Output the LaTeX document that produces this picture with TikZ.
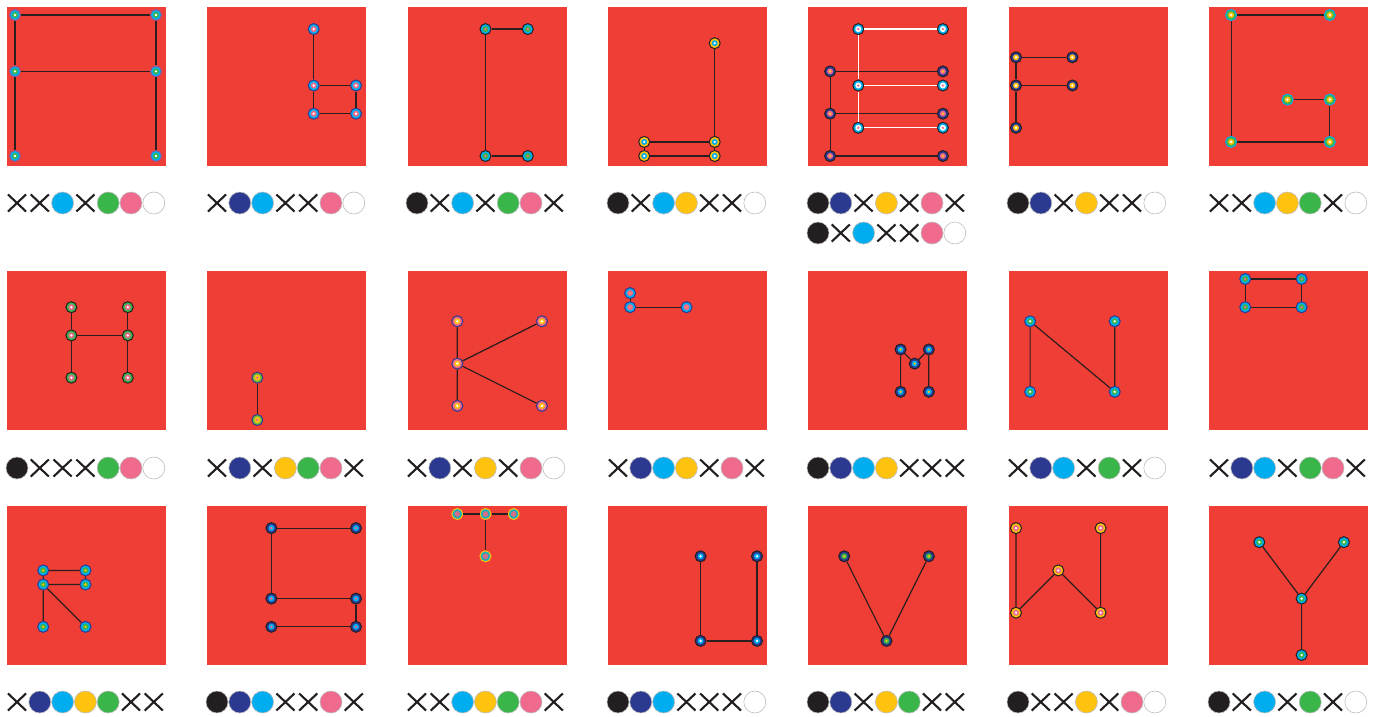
\documentclass[tikz,border=0pt]{standalone}
\usetikzlibrary{shapes.misc}
\definecolor{bgRed}{HTML}{EF3E36}
\definecolor{cblack}{HTML}{231F20}
\definecolor{cnavy}{HTML}{2B3990}
\definecolor{ccyan}{HTML}{00AEEF}
\definecolor{cyellow}{HTML}{FFC20E}
\definecolor{cgreen}{HTML}{39B54A}
\definecolor{cpink}{HTML}{F06A8E}
\definecolor{edgeDark}{HTML}{2A1E1E}
\definecolor{ringGray}{HTML}{BDBDBD}
\tikzset{
  panel/.style={rectangle, fill=bgRed, draw=none, minimum size=159pt, inner sep=0pt},
  vtx/.style n args={4}{circle, inner sep=0pt, minimum size=11pt, line width=1pt,
    draw=#1, fill=#2,
    path picture={\fill[#3] (path picture bounding box.center) circle (3pt);
                  \fill[#4] (path picture bounding box.center) circle (1.3pt);}},
  link/.style={draw=edgeDark, line width=1.2pt},
  linkW/.style={draw=white, line width=1.2pt},
  swatch/.style={circle, inner sep=0pt, minimum size=22pt, draw=ringGray, line width=0.6pt},
  crossmark/.style={cross out, draw=cblack, line width=2.1pt, inner sep=0pt,
    minimum width=16pt, minimum height=15pt},
}
\def\keyX{X}
% one row of seven keys: name, x, y, list
\newcommand{\keyrow}[4]{%
  \foreach \kc [count=\ki from 0] in {#4}{%
    \ifx\kc\keyX
      \node[crossmark] (#1\ki) at ({#2+22.8*\ki},#3) {};
    \else
      \node[swatch, fill=\kc] (#1\ki) at ({#2+22.8*\ki},#3) {};
    \fi}}
\begin{document}
\begin{tikzpicture}[x=1pt, y=-1pt]
  \useasboundingbox (0,0) rectangle (1379,717);

  % panels
  \node[panel] (sqA) at (86.5,86.5) {};
  \node[panel] (sqB) at (286.8,86.5) {};
  \node[panel] (sqC) at (487.1,86.5) {};
  \node[panel] (sqD) at (687.4,86.5) {};
  \node[panel] (sqE) at (887.7,86.5) {};
  \node[panel] (sqF) at (1088,86.5) {};
  \node[panel] (sqG) at (1288.3,86.5) {};
  \node[panel] (sqH) at (86.5,350.5) {};
  \node[panel] (sqI) at (286.8,350.5) {};
  \node[panel] (sqK) at (487.1,350.5) {};
  \node[panel] (sqL) at (687.4,350.5) {};
  \node[panel] (sqM) at (887.7,350.5) {};
  \node[panel] (sqN) at (1088,350.5) {};
  \node[panel] (sqO) at (1288.3,350.5) {};
  \node[panel] (sqR) at (86.5,585.5) {};
  \node[panel] (sqS) at (286.8,585.5) {};
  \node[panel] (sqT) at (487.1,585.5) {};
  \node[panel] (sqU) at (687.4,585.5) {};
  \node[panel] (sqV) at (887.7,585.5) {};
  \node[panel] (sqW) at (1088,585.5) {};
  \node[panel] (sqY) at (1288.3,585.5) {};

  % row 1
  \begin{scope}[shift={(15,15)}, x=14.1pt, y=-14.1pt,
      every node/.style={vtx={cpink!55!cnavy}{ccyan}{cgreen}{white}}]
    \node (a1) at (0,0) {}; \node (a2) at (10,0) {};
    \node (a3) at (0,4) {}; \node (a4) at (10,4) {};
    \node (a5) at (0,10) {}; \node (a6) at (10,10) {};
    \draw[link] (a1)--(a2) (a3)--(a4) (a1)--(a3)--(a5) (a2)--(a4)--(a6);
  \end{scope}
  \begin{scope}[shift={(215,15)}, x=14.1pt, y=-14.1pt,
      every node/.style={vtx={cnavy}{ccyan}{cpink}{white}}]
    \node (b1) at (7,1) {};
    \node (b2) at (7,5) {}; \node (b3) at (10,5) {};
    \node (b4) at (7,7) {}; \node (b5) at (10,7) {};
    \draw[link] (b1)--(b2)--(b4) (b2)--(b3) (b4)--(b5) (b3)--(b5);
  \end{scope}
  \begin{scope}[shift={(415,15)}, x=14.1pt, y=-14.1pt,
      every node/.style={vtx={cblack}{ccyan}{cgreen}{cpink}}]
    \node (c1) at (5,1) {}; \node (c2) at (8,1) {};
    \node (c3) at (5,10) {}; \node (c4) at (8,10) {};
    \draw[link] (c2)--(c1)--(c3)--(c4);
  \end{scope}
  \begin{scope}[shift={(616,15)}, x=14.1pt, y=-14.1pt,
      every node/.style={vtx={cblack}{cyellow}{ccyan}{white}}]
    \node (d1) at (7,2) {};
    \node (d2) at (2,9) {}; \node (d3) at (7,9) {};
    \node (d4) at (2,10) {}; \node (d5) at (7,10) {};
    \draw[link] (d1)--(d3)--(d5) (d2)--(d3) (d4)--(d5) (d2)--(d4);
  \end{scope}
  \begin{scope}[shift={(816,15)}, x=14.1pt, y=-14.1pt,
      every node/.style={vtx={cblack}{cnavy}{cpink}{cyellow}}]
    \node (e1) at (1,4) {}; \node (e2) at (9,4) {};
    \node (e3) at (1,7) {}; \node (e4) at (9,7) {};
    \node (e5) at (1,10) {}; \node (e6) at (9,10) {};
    \draw[link] (e1)--(e2) (e3)--(e4) (e5)--(e6) (e1)--(e3)--(e5);
    \begin{scope}[every node/.style={vtx={cblack}{ccyan}{white}{cpink}}]
      \node (e7) at (3,1) {}; \node (e8) at (9,1) {};
      \node (e9) at (3,5) {}; \node (e10) at (9,5) {};
      \node (e11) at (3,8) {}; \node (e12) at (9,8) {};
      \draw[linkW] (e7)--(e8) (e9)--(e10) (e11)--(e12) (e7)--(e9)--(e11);
    \end{scope}
  \end{scope}
  \begin{scope}[shift={(1016,15)}, x=14.1pt, y=-14.1pt,
      every node/.style={vtx={cblack}{cnavy}{cyellow}{white}}]
    \node (f1) at (0,3) {}; \node (f2) at (4,3) {};
    \node (f3) at (0,5) {}; \node (f4) at (4,5) {};
    \node (f5) at (0,8) {};
    \draw[link] (f1)--(f2) (f3)--(f4) (f1)--(f3)--(f5);
  \end{scope}
  \begin{scope}[shift={(1217,15)}, x=14.1pt, y=-14.1pt,
      every node/.style={vtx={ccyan}{cgreen}{cyellow}{white}}]
    \node (g1) at (1,0) {}; \node (g2) at (8,0) {};
    \node (g3) at (5,6) {}; \node (g4) at (8,6) {};
    \node (g5) at (1,9) {}; \node (g6) at (8,9) {};
    \draw[link] (g2)--(g1)--(g5)--(g6)--(g4)--(g3);
  \end{scope}

  % row 2
  \begin{scope}[shift={(15,279)}, x=14.1pt, y=-14.1pt,
      every node/.style={vtx={cblack}{cgreen}{cpink}{white}}]
    \node (h1) at (4,2) {}; \node (h2) at (8,2) {};
    \node (h3) at (4,4) {}; \node (h4) at (8,4) {};
    \node (h5) at (4,7) {}; \node (h6) at (8,7) {};
    \draw[link] (h1)--(h3)--(h5) (h2)--(h4)--(h6) (h3)--(h4);
  \end{scope}
  \begin{scope}[shift={(215,279)}, x=14.1pt, y=-14.1pt,
      every node/.style={vtx={cnavy}{cgreen!70!cyellow}{cyellow}{cpink}}]
    \node (i1) at (3,7) {}; \node (i2) at (3,10) {};
    \draw[link] (i1)--(i2);
  \end{scope}
  \begin{scope}[shift={(415,279)}, x=14.1pt, y=-14.1pt,
      every node/.style={vtx={cnavy}{cpink}{cyellow}{white}}]
    \node (k1) at (3,3) {}; \node (k2) at (9,3) {};
    \node (k3) at (3,6) {};
    \node (k4) at (3,9) {}; \node (k5) at (9,9) {};
    \draw[link] (k1)--(k3)--(k4) (k3)--(k2) (k3)--(k5);
  \end{scope}
  \begin{scope}[shift={(616,279)}, x=14.1pt, y=-14.1pt,
      every node/.style={vtx={cnavy}{ccyan}{cpink}{cpink!60!cyellow}}]
    \node (l1) at (1,1) {};
    \node (l2) at (1,2) {}; \node (l3) at (5,2) {};
    \draw[link] (l1)--(l2)--(l3);
  \end{scope}
  \begin{scope}[shift={(816,279)}, x=14.1pt, y=-14.1pt,
      every node/.style={vtx={cblack}{cnavy}{ccyan}{cyellow}}]
    \node (m1) at (6,5) {}; \node (m2) at (8,5) {};
    \node (m3) at (7,6) {};
    \node (m4) at (6,8) {}; \node (m5) at (8,8) {};
    \draw[link] (m4)--(m1)--(m3)--(m2)--(m5);
  \end{scope}
  \begin{scope}[shift={(1016,279)}, x=14.1pt, y=-14.1pt,
      every node/.style={vtx={cnavy}{ccyan}{cgreen}{white}}]
    \node (n1) at (1,3) {}; \node (n2) at (7,3) {};
    \node (n3) at (1,8) {}; \node (n4) at (7,8) {};
    \draw[link] (n3)--(n1)--(n4)--(n2);
  \end{scope}
  \begin{scope}[shift={(1217,279)}, x=14.1pt, y=-14.1pt,
      every node/.style={vtx={cnavy}{ccyan}{cgreen}{cpink}}]
    \node (o1) at (2,0) {}; \node (o2) at (6,0) {};
    \node (o3) at (2,2) {}; \node (o4) at (6,2) {};
    \draw[link] (o1)--(o2)--(o4)--(o3)--(o1);
  \end{scope}

  % row 3
  \begin{scope}[shift={(15,514)}, x=14.1pt, y=-14.1pt,
      every node/.style={vtx={cnavy}{ccyan}{cgreen}{cyellow}}]
    \node (r1) at (2,4) {}; \node (r2) at (5,4) {};
    \node (r3) at (2,5) {}; \node (r4) at (5,5) {};
    \node (r5) at (2,8) {}; \node (r6) at (5,8) {};
    \draw[link] (r1)--(r2) (r3)--(r4) (r1)--(r3)--(r5) (r2)--(r4) (r3)--(r6);
  \end{scope}
  \begin{scope}[shift={(215,514)}, x=14.1pt, y=-14.1pt,
      every node/.style={vtx={cblack}{cnavy}{ccyan}{cpink}}]
    \node (s1) at (4,1) {}; \node (s2) at (10,1) {};
    \node (s3) at (4,6) {}; \node (s4) at (10,6) {};
    \node (s5) at (4,8) {}; \node (s6) at (10,8) {};
    \draw[link] (s2)--(s1)--(s3)--(s4)--(s6)--(s5);
  \end{scope}
  \begin{scope}[shift={(415,514)}, x=14.1pt, y=-14.1pt,
      every node/.style={vtx={cyellow}{ccyan!70!cgreen}{cpink!60!gray}{cpink}}]
    \node (t1) at (3,0) {}; \node (t2) at (5,0) {}; \node (t3) at (7,0) {};
    \node (t4) at (5,3) {};
    \draw[link] (t1)--(t2)--(t3) (t2)--(t4);
  \end{scope}
  \begin{scope}[shift={(616,514)}, x=14.1pt, y=-14.1pt,
      every node/.style={vtx={cblack}{cnavy}{ccyan}{white}}]
    \node (u1) at (6,3) {}; \node (u2) at (10,3) {};
    \node (u3) at (6,9) {}; \node (u4) at (10,9) {};
    \draw[link] (u1)--(u3)--(u4)--(u2);
  \end{scope}
  \begin{scope}[shift={(816,514)}, x=14.1pt, y=-14.1pt,
      every node/.style={vtx={cblack}{cnavy}{cgreen}{cyellow}}]
    \node (v1) at (2,3) {}; \node (v2) at (8,3) {};
    \node (v3) at (5,9) {};
    \draw[link] (v1)--(v3)--(v2);
  \end{scope}
  \begin{scope}[shift={(1016,514)}, x=14.1pt, y=-14.1pt,
      every node/.style={vtx={cblack}{cyellow}{cpink}{white}}]
    \node (w1) at (0,1) {}; \node (w2) at (6,1) {};
    \node (w3) at (3,4) {};
    \node (w4) at (0,7) {}; \node (w5) at (6,7) {};
    \draw[link] (w1)--(w4)--(w3)--(w5)--(w2);
  \end{scope}
  \begin{scope}[shift={(1217,514)}, x=14.1pt, y=-14.1pt,
      every node/.style={vtx={cblack}{ccyan}{cgreen}{white}}]
    \node (y1) at (3,2) {}; \node (y2) at (9,2) {};
    \node (y3) at (6,6) {};
    \node (y4) at (6,10) {};
    \draw[link] (y1)--(y3)--(y2) (y3)--(y4);
  \end{scope}

  % keys
  \keyrow{kA}{17}{203}{X,X,ccyan,X,cgreen,cpink,white}
  \keyrow{kB}{217}{203}{X,cnavy,ccyan,X,X,cpink,white}
  \keyrow{kC}{417}{203}{cblack,X,ccyan,X,cgreen,cpink,X}
  \keyrow{kD}{618}{203}{cblack,X,ccyan,cyellow,X,X,white}
  \keyrow{kE}{818}{203}{cblack,cnavy,X,cyellow,X,cpink,X}
  \keyrow{kEE}{818}{233}{cblack,X,ccyan,X,X,cpink,white}
  \keyrow{kF}{1018}{203}{cblack,cnavy,X,cyellow,X,X,white}
  \keyrow{kG}{1219}{203}{X,X,ccyan,cyellow,cgreen,X,white}
  \keyrow{kH}{17}{468}{cblack,X,X,X,cgreen,cpink,white}
  \keyrow{kI}{217}{468}{X,cnavy,X,cyellow,cgreen,cpink,X}
  \keyrow{kK}{417}{468}{X,cnavy,X,cyellow,X,cpink,white}
  \keyrow{kL}{618}{468}{X,cnavy,ccyan,cyellow,X,cpink,X}
  \keyrow{kM}{818}{468}{cblack,cnavy,ccyan,cyellow,X,X,X}
  \keyrow{kN}{1018}{468}{X,cnavy,ccyan,X,cgreen,X,white}
  \keyrow{kO}{1219}{468}{X,cnavy,ccyan,X,cgreen,cpink,X}
  \keyrow{kR}{17}{702}{X,cnavy,ccyan,cyellow,cgreen,X,X}
  \keyrow{kS}{217}{702}{cblack,cnavy,ccyan,X,X,cpink,X}
  \keyrow{kT}{417}{702}{X,X,ccyan,cyellow,cgreen,cpink,X}
  \keyrow{kU}{618}{702}{cblack,cnavy,ccyan,X,X,X,white}
  \keyrow{kV}{818}{702}{cblack,cnavy,X,cyellow,cgreen,X,X}
  \keyrow{kW}{1018}{702}{cblack,X,X,cyellow,X,cpink,white}
  \keyrow{kY}{1219}{702}{cblack,X,ccyan,X,cgreen,X,white}
\end{tikzpicture}
\end{document}
